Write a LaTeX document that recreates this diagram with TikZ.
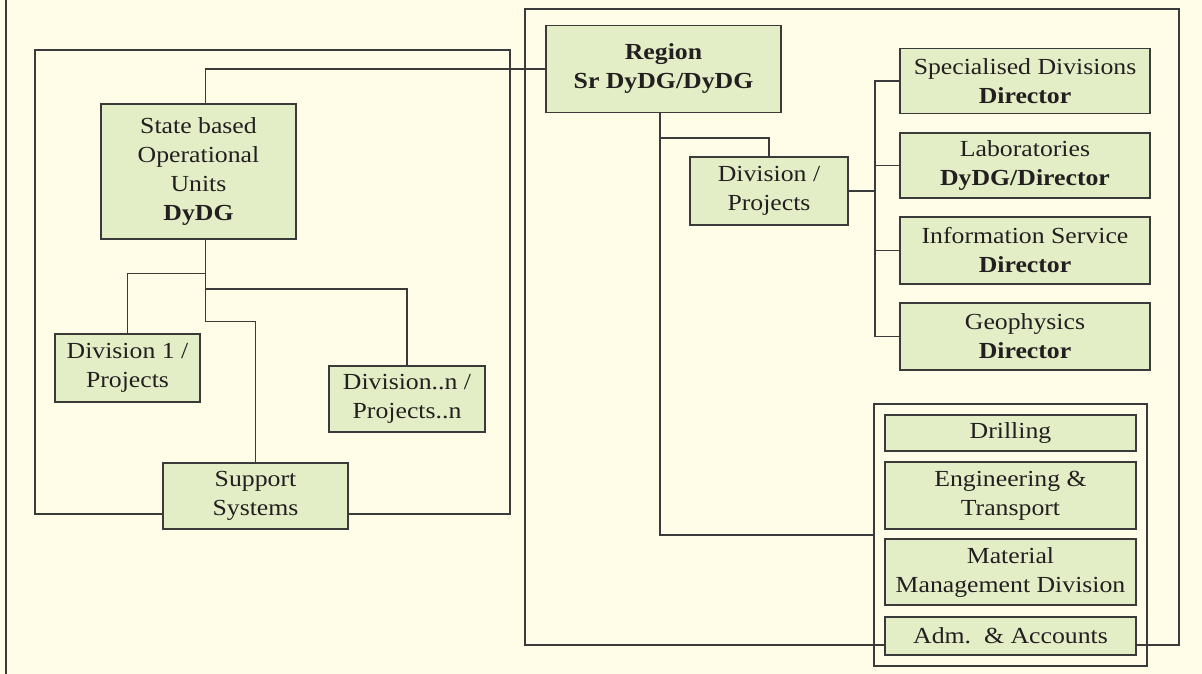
\documentclass[tikz,border=0pt]{standalone}
\usepackage{fontspec}
\setmainfont[FakeStretch=1.12]{Liberation Serif}
\definecolor{bg}{HTML}{FFFDE8}
\definecolor{boxfill}{HTML}{E4EEC6}
\definecolor{ln}{HTML}{3A3A3A}
\definecolor{txt}{HTML}{231F20}
\begin{document}
\begin{tikzpicture}[x=1pt,y=-1pt,
  conn/.style={draw=ln,line width=1.2pt},
  grpbox/.style={draw=ln,line width=1.2pt,inner sep=0pt,outer sep=0pt},
  unit/.style={draw=ln,line width=1.4pt,fill=boxfill,text=txt,align=center,
    inner sep=0pt,outer sep=0pt,font=\fontsize{23}{29}\selectfont},
]
\fill[bg] (0,0) rectangle (1202,674);
\useasboundingbox (0,0) rectangle (1202,674);
\draw[ln,line width=2.5pt] (6.2,0) -- (6.2,674);

% group frames
\node[grpbox,minimum width=475pt,minimum height=464pt] (lgrp) at (272.5,282) {};
\node[grpbox,minimum width=654pt,minimum height=636pt] (rgrp) at (852,327) {};
\node[grpbox,minimum width=273pt,minimum height=262pt] (grp) at (1010.5,535) {};

% units
\node[unit,minimum width=235pt,minimum height=87.5pt] (region) at (663.5,69) {\textbf{Region}\\\textbf{Sr DyDG/DyDG}};
\node[unit,minimum width=195pt,minimum height=135pt] (sbou) at (198.5,171.5) {State based\\Operational\\Units\\\textbf{DyDG}};
\node[unit,minimum width=158pt,minimum height=68pt] (dp) at (769,191) {Division /\\Projects};
\node[unit,minimum width=250pt,minimum height=65.5pt] (sd) at (1025,81) {Specialised Divisions\\\textbf{Director}};
\node[unit,minimum width=250pt,minimum height=65pt] (lab) at (1025,165.5) {Laboratories\\\textbf{DyDG/Director}};
\node[unit,minimum width=250pt,minimum height=67pt] (info) at (1025,250.5) {Information Service\\\textbf{Director}};
\node[unit,minimum width=250pt,minimum height=67pt] (geo) at (1025,336.5) {Geophysics\\\textbf{Director}};
\node[unit,minimum width=145pt,minimum height=68pt] (div1) at (127.5,368) {Division 1 /\\Projects};
\node[unit,minimum width=156pt,minimum height=66pt] (divn) at (407,399) {Division..n /\\Projects..n};
\node[unit,minimum width=185pt,minimum height=66pt] (sup) at (255.5,496) {Support\\Systems};
\node[unit,minimum width=251pt,minimum height=36pt] (drill) at (1010.5,433) {Drilling};
\node[unit,minimum width=251pt,minimum height=67pt] (eng) at (1010.5,495.5) {Engineering \&\\Transport};
\node[unit,minimum width=251pt,minimum height=66pt] (mat) at (1010.5,572) {Material\\Management Division};
\node[unit,minimum width=251pt,minimum height=38pt] (adm) at (1010.5,636) {Adm.\ \ \& Accounts};

% helper coordinates
\coordinate (sx) at (205.7,0);
\coordinate (rx) at (660,0);
\coordinate (sp) at (875,0);
\coordinate (b1) at (205.7,273.7);
\coordinate (b2) at (205.7,289);
\coordinate (b3) at (205.7,321.7);
\coordinate (rb) at (660,138);

% connectors
\draw[conn] (region.west) -- (region.west -| sx) -- (sbou.north -| sx);
\draw[conn] (sbou.south -| sx) -- (b3) -- (b3 -| sup.north) -- (sup.north);
\draw[conn] (b1) -- (b1 -| div1.north) -- (div1.north);
\draw[conn] (b2) -- (b2 -| divn.north) -- (divn.north);
\draw[conn] (region.south -| rx) -- (grp.west -| rx) -- (grp.west);
\draw[conn] (rb) -- (rb -| dp.north) -- (dp.north);
\draw[conn] (dp.east) -- (dp.east -| sp);
\draw[conn] (sd.west) -- (sd.west -| sp) -- (geo.west -| sp) -- (geo.west);
\draw[conn] (lab.west -| sp) -- (lab.west);
\draw[conn] (info.west -| sp) -- (info.west);
\end{tikzpicture}
\end{document}
